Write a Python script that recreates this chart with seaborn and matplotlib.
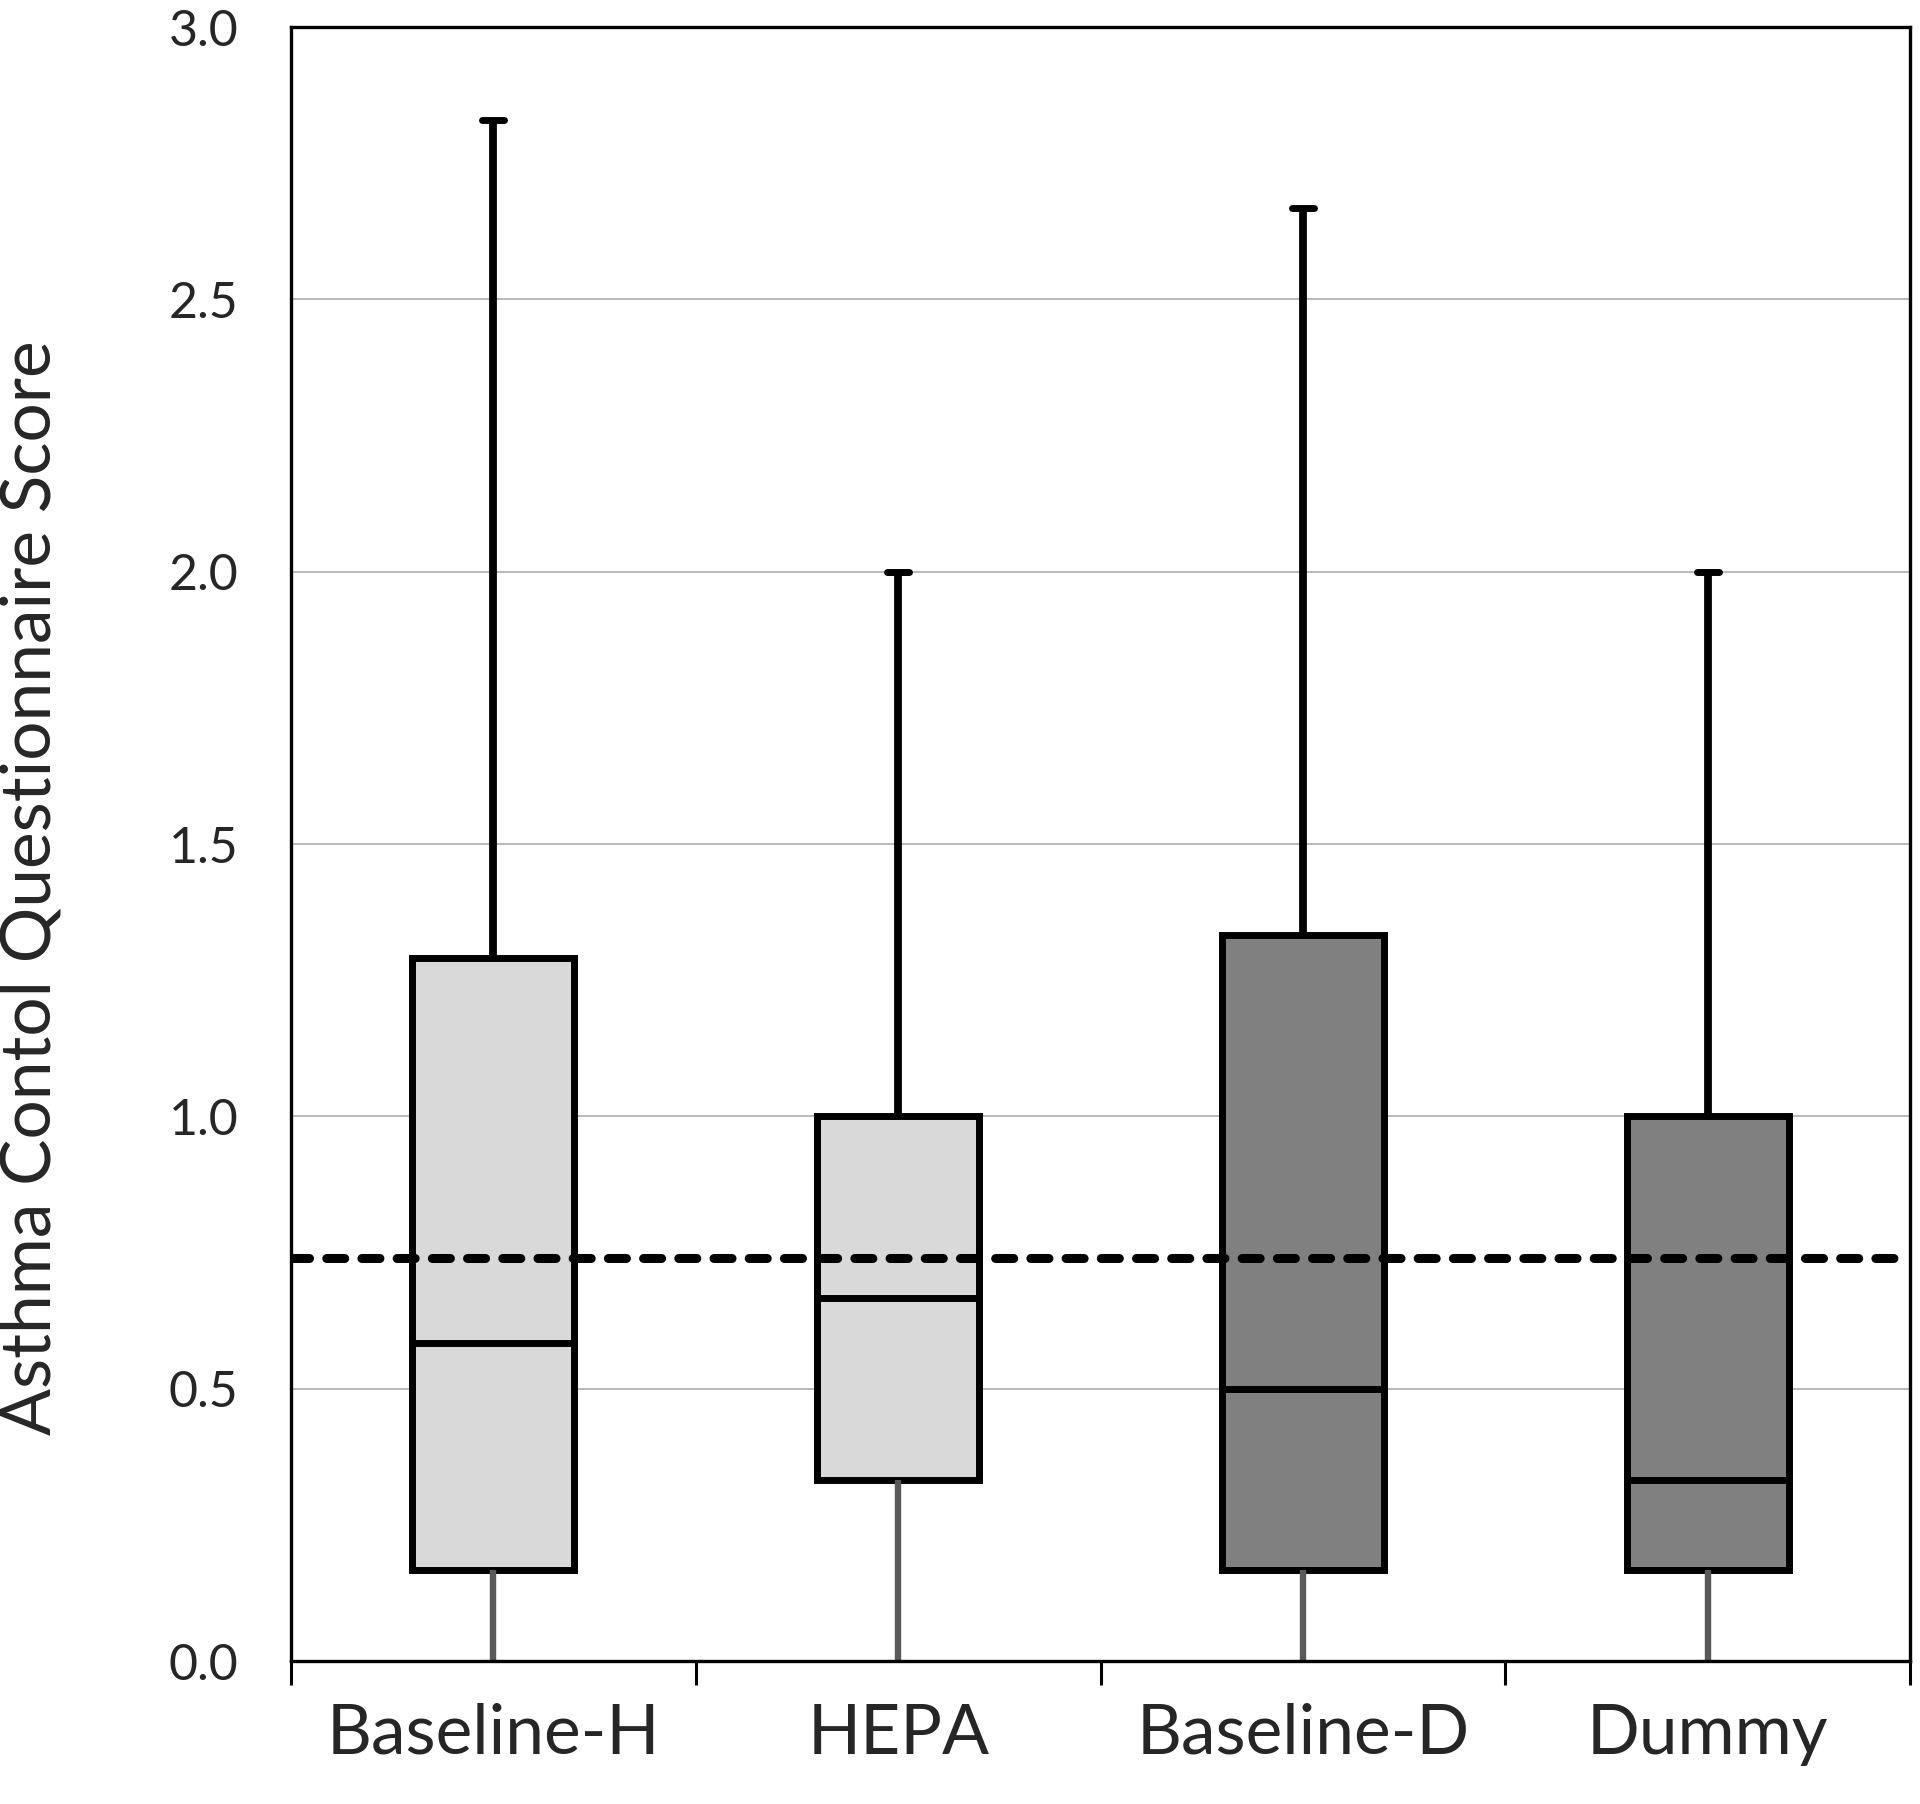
import numpy as np
import pandas as pd
import seaborn as sns
import matplotlib.pyplot as plt

# box statistics
groups = ['Baseline-H', 'HEPA', 'Baseline-D', 'Dummy']
mins = [0.0, 0.0, 0.0, 0.0]
q1s = [0.167, 0.333, 0.167, 0.167]
medians = [0.583, 0.667, 0.5, 0.333]
q3s = [1.29, 1.0, 1.333, 1.0]
maxs = [2.83, 2.0, 2.667, 2.0]
fills = ['#d9d9d9', '#d9d9d9', '#808080', '#808080']
threshold = 0.74

# five points per group -> quartiles land exactly on the values
rows = []
for g, a, b, c, d, e in zip(groups, mins, q1s, medians, q3s, maxs):
    for v in (a, b, c, d, e):
        rows.append({'Group': g, 'Score': v})
df = pd.DataFrame(rows)

sns.set_style('white')
plt.rcParams['font.family'] = ['Lato', 'DejaVu Sans']

fig = plt.figure(figsize=(19.2, 18.04), dpi=100)
ax = fig.add_axes([291 / 1920, 1 - 1661 / 1804, 1619 / 1920, 1634 / 1804])

sns.boxplot(data=df, x='Group', y='Score', hue='Group', palette=fills, legend=False,
            saturation=1, width=0.4, whis=np.inf, linecolor='black', linewidth=5,
            showfliers=False, capwidths=0.054, ax=ax)

# lower whiskers are grey, upper ones a bit heavier
for line in ax.lines:
    x = np.asarray(line.get_xdata(), dtype=float)
    y = np.asarray(line.get_ydata(), dtype=float)
    if len(y) != 2:
        continue
    if x[0] == x[1] and y.min() == 0:
        line.set_color('#595959')
        line.set_linewidth(4.6)
    elif x[0] == x[1] and y.max() in maxs:
        line.set_linewidth(5.6)
    elif y[0] == y[1] and y[0] == 0:
        line.set_color('#595959')
        line.set_linewidth(1.5)
        line.set_xdata([x.mean() - 0.025, x.mean() + 0.025])

ax.axhline(threshold, color='black', lw=6.5, linestyle=(0, (2.0, 1.9)),
           dash_capstyle='round', zorder=5)

ax.set_xlim(-0.5, 3.5)
ax.set_ylim(0, 3)
ax.set_yticks(np.arange(0, 3.01, 0.5))
ax.set_yticklabels([f'{v:.1f}' for v in np.arange(0, 3.01, 0.5)])
ax.yaxis.grid(True, color='#a6a6a6', lw=1.1)
ax.set_axisbelow(True)

ax.set_xticks(range(len(groups)))
ax.set_xticklabels(groups)
ax.set_xticks(np.arange(-0.5, 3.6, 1), minor=True)
ax.tick_params(axis='x', which='major', length=0, pad=30, labelsize=50)
ax.tick_params(axis='x', which='minor', length=17, width=2.2, color='black', direction='out', bottom=True)
ax.tick_params(axis='y', length=0, pad=38, labelsize=36)

for s in ax.spines.values():
    s.set_visible(True)
    s.set_color('black')
    s.set_linewidth(2.4)

ax.set_xlabel('')
ax.set_ylabel('')
fig.text(31 / 1920, 1 - 888 / 1804, 'Asthma Contol Questionnaire Score', rotation=90,
         ha='center', va='center', fontsize=50)

fig.savefig('out.png', dpi=100)
